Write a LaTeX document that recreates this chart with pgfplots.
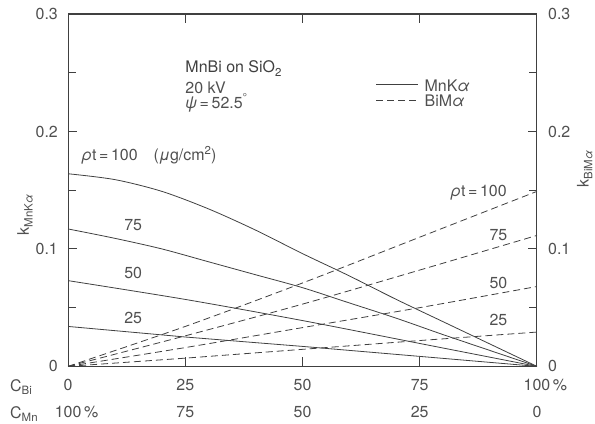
\documentclass[border=0pt]{standalone}
\usepackage{fontspec}
\setmainfont{TeX Gyre Heros}
\usepackage{pgfplots}
\pgfplotsset{compat=1.18}
\definecolor{ink}{HTML}{404040}
\definecolor{txt}{HTML}{505050}
\newcommand{\lo}[1]{\raisebox{-0.45ex}{\fontsize{11.5}{12}\selectfont #1}}
\newcommand{\hi}[1]{\raisebox{0.8ex}{\fontsize{11.5}{12}\selectfont #1}}
\newcommand{\al}{\textit{α}}

% MnK-alpha k-ratios (solid), one table per film thickness rho*t
\pgfplotstableread{
x y
0   0.164
10  0.159
20  0.149
30  0.134
40  0.116
50  0.096
60  0.077
70  0.057
80  0.038
90  0.019
100 0.0
}\mnA
\pgfplotstableread{
x y
0   0.117
10  0.109
20  0.100
30  0.089
40  0.078
50  0.067
60  0.054
70  0.041
80  0.027
90  0.0135
100 0.0
}\mnB
\pgfplotstableread{
x y
0   0.073
25  0.057
50  0.039
75  0.0195
100 0.0
}\mnC
\pgfplotstableread{
x y
0   0.034
25  0.025
50  0.017
75  0.0085
100 0.0
}\mnD
% BiM-alpha k-ratios (dashed)
\pgfplotstableread{
x y
0   0.0
25  0.034
50  0.071
75  0.110
100 0.149
}\biA
\pgfplotstableread{
x y
0   0.0
25  0.026
50  0.053
75  0.082
100 0.1115
}\biB
\pgfplotstableread{
x y
0   0.0
25  0.016
50  0.033
75  0.050
100 0.068
}\biC
\pgfplotstableread{
x y
0   0.0
25  0.007
50  0.0145
75  0.022
100 0.0292
}\biD

\tikzset{
  mn/.style={ink, line width=0.8bp, no markers},
  bi/.style={ink, line width=0.8bp, no markers, dash pattern=on 7bp off 4bp},
}

\begin{document}
\begin{tikzpicture}[font=\fontsize{16}{19}\selectfont, text=txt]
\begin{axis}[name=ax, scale only axis, width=468.4bp, height=352bp,
  xmin=0, xmax=100, ymin=0, ymax=0.3,
  clip=false,
  axis line style={ink, line width=1.1bp},
  tick style={ink, line width=0.9bp},
  major tick length=9bp, minor tick length=8bp,
  tick align=inside, xtick pos=both, ytick pos=both,
  xtick={0,25,50,75,100},
  xticklabels={{0\\100\rlap{\,\%}},{25\\75},{50\\50},{75\\25},{100\rlap{\,\%}\\0}},
  xticklabel style={align=center, font=\fontsize{16}{27}\selectfont, text=txt,
    anchor=north, inner sep=0pt, yshift=-13bp},
  ytick={0,0.1,0.2,0.3}, yticklabels={0,0.1,0.2,0.3},
  minor ytick={0.05,0.15,0.25},
  yticklabel style={anchor=east, inner sep=0pt, xshift=-10bp, text=txt},
  ylabel={k\lo{MnK\al}},
  ylabel style={at={(axis description cs:-0.092,0.43)}, anchor=center, text=txt},
]
\addplot[mn, smooth, tension=0.5] table {\mnA};
\addplot[mn, smooth, tension=0.5] table {\mnB};
\addplot[mn, smooth, tension=0.5] table {\mnC};
\addplot[mn] table {\mnD};
\addplot[bi, smooth, tension=0.5] table {\biA};
\addplot[bi, smooth, tension=0.5] table {\biB};
\addplot[bi, smooth, tension=0.5] table {\biC};
\addplot[bi] table {\biD};

% key
\addplot[mn] coordinates {(65.7,0.2404) (74.7,0.2404)};
\addplot[bi] coordinates {(65.7,0.2264) (74.7,0.2264)};
\node[anchor=base west, inner sep=0pt] at (axis cs:76,0.2344) {MnK\al};
\node[anchor=base west, inner sep=0pt] at (axis cs:76,0.2214) {BiM\al};

% conditions
\node[anchor=base west, inner sep=0pt, text=ink] at (axis cs:25,0.250) {MnBi on SiO\lo{2}};
\node[anchor=base west, inner sep=0pt] at (axis cs:25,0.2323) {20 kV};
\node[anchor=base west, inner sep=0pt] at (axis cs:25,0.2196) {\textit{ψ}\,=\,52.5\hi{°}};

% thickness labels
\node[anchor=base west, inner sep=0pt] at (axis cs:2.9,0.175) {\textit{ρ}t\,=\,100\quad(\textit{μ}g/cm\hi{2})};
\node at (axis cs:13.9,0.120) {75};
\node at (axis cs:13.9,0.0794) {50};
\node at (axis cs:13.9,0.0411) {25};
\node[anchor=base east, inner sep=0pt] at (axis cs:93.6,0.1447) {\textit{ρ}t\,=\,100};
\node at (axis cs:91.8,0.112) {75};
\node at (axis cs:91.8,0.0709) {50};
\node at (axis cs:91.8,0.0397) {25};

% concentration row captions
\node[anchor=base west, inner sep=0pt] at ([xshift=-58bp,yshift=-24.75bp]axis cs:0,0) {C\lo{Bi}};
\node[anchor=base west, inner sep=0pt] at ([xshift=-58bp,yshift=-51.75bp]axis cs:0,0) {C\lo{Mn}};
\end{axis}

\begin{axis}[scale only axis, width=468.4bp, height=352bp,
  xmin=0, xmax=100, ymin=0, ymax=0.3,
  axis x line=none, axis y line*=right,
  y axis line style={draw=none},
  major tick length=0pt,
  ytick={0,0.1,0.2,0.3}, yticklabels={0,0.1,0.2,0.3},
  yticklabel style={anchor=west, inner sep=0pt, xshift=11bp, text=txt},
  ylabel={k\lo{BiM\al}},
  ylabel style={at={(axis description cs:1.102,0.56)}, anchor=center, text=txt},
]
\end{axis}

\pgfresetboundingbox
\path ([shift={(-68bp,-57bp)}]ax.south west) rectangle ([shift={(58bp,14bp)}]ax.north east);
\end{tikzpicture}
\end{document}
